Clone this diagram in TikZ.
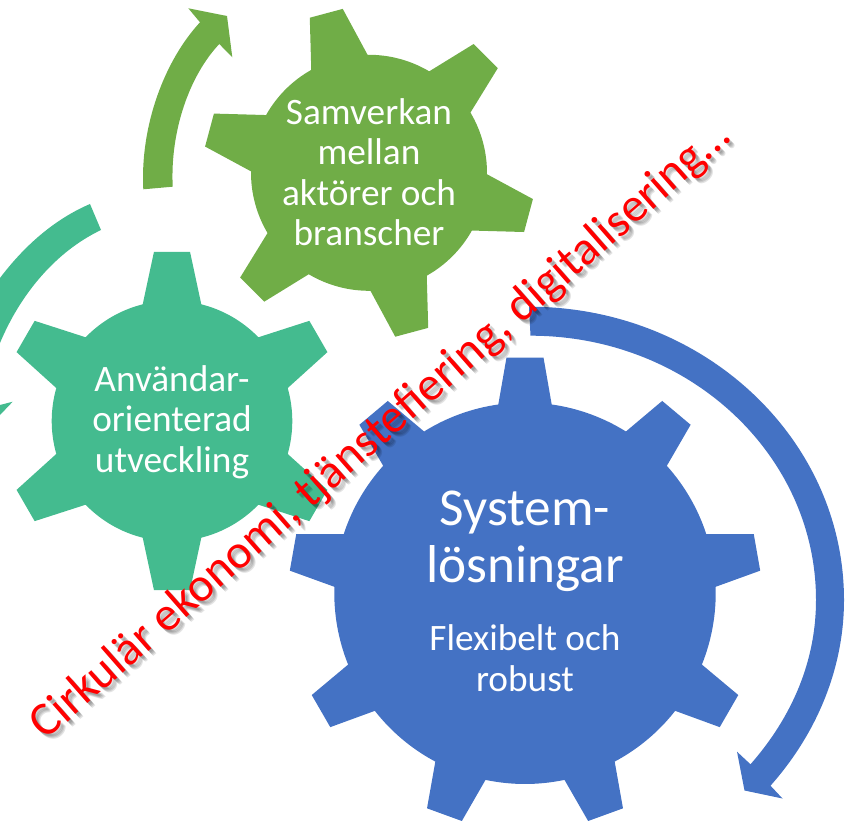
\documentclass[tikz,border=0pt]{standalone}
\usepackage{fontspec}
\setmainfont{Carlito}
\definecolor{gteal}{HTML}{44BB8F}
\definecolor{ggreen}{HTML}{70AD47}
\definecolor{gblue}{HTML}{4472C4}
\tikzset{
  gearlabel/.style={text=white,align=center,inner sep=0pt,font=\fontsize{37.3}{40.5}\selectfont},
  bigfont/.style={text=white,align=center,inner sep=0pt,font=\fontsize{53.3}{57}\selectfont},
  slanted label/.style={rotate=41.2,inner sep=0pt,font=\fontsize{47.8}{50}\selectfont},
  soft shadow/.style={slanted label,text=black,opacity=.11}
}
% cx cy teeth offset rbase rtip halfbase halftip colour
\newcommand\cogwheel[9]{%
  \begin{scope}[shift={(#1,#2)}]
    \fill[#9] ({#4-#7}:#5)
      \foreach \i [evaluate=\i as \a using #4+(\i-1)*360/#3] in {1,...,#3}{
        -- ({\a-#7}:#5) -- ({\a-#8}:#6) -- ({\a+#8}:#6) -- ({\a+#7}:#5)
        arc[start angle={\a+#7},end angle={\a+360/#3-#7},radius=#5]
      } -- cycle;
  \end{scope}}
\begin{document}
\begin{tikzpicture}[x=1pt,y=-1pt]
\useasboundingbox (0,0) rectangle (846,821);
\clip (0,0) rectangle (846,821);
% arrows
\fill[ggreen] (143.3,189.3) .. controls (140,125) and (165,60) .. (200,22.3)
  -- (188.3,8.3) -- (227,16) -- (232.3,57.3) -- (219.3,44)
  .. controls (190,75) and (170,130) .. (172.7,186.7) -- cycle;
\fill[gteal] (90,204) .. controls (55,219) and (25,245) .. (0,278)
  -- (0,343) .. controls (20,295) and (55,252) .. (101,230) -- cycle;
\fill[gteal] (12.7,401.7) -- (0,405) -- (0,415) -- cycle;
\fill[gblue] (529,306.7) .. controls (703,306.7) and (844,438) .. (844,600)
  .. controls (844,668) and (817,733.3) .. (770.5,785.7)
  -- (782.5,798.5) -- (744.5,790.5) -- (737,751.7) -- (750.5,764.3)
  .. controls (792.2,716.7) and (816,661) .. (816,600)
  .. controls (816,454.2) and (688.4,335.7) .. (530.5,335.7) -- cycle;
% gears
\cogwheel{369}{172.8}{6}{-105}{118}{166}{14.3}{5.9}{ggreen}
\cogwheel{172}{421}{6}{-90}{120.3}{170}{14.1}{6.1}{gteal}
\cogwheel{525}{593.3}{9}{-90}{190.7}{236.3}{8.05}{4.5}{gblue}
% labels
\node[gearlabel] (samverkan) at (369,172) {Samverkan\\mellan\\aktörer och\\branscher};
\node[gearlabel] (anvandar) at (172,422) {Användar-\\orienterad\\utveckling};
\node[bigfont] (system) at (525,541) {System-\\lösningar};
\node[gearlabel] (flexibelt) at (525,658) {Flexibelt och\\robust};
\node[soft shadow] (crossshadowa) at (383,433) {Cirkulär ekonomi, tjänstefiering, digitalisering…};
\node[soft shadow] (crossshadowb) at (384,434) {Cirkulär ekonomi, tjänstefiering, digitalisering…};
\node[soft shadow] (crossshadowc) at (385,435) {Cirkulär ekonomi, tjänstefiering, digitalisering…};
\node[soft shadow] (crossshadowd) at (386,436) {Cirkulär ekonomi, tjänstefiering, digitalisering…};
\node[slanted label,text=red] (crosstext) at (381,431) {Cirkulär ekonomi, tjänstefiering, digitalisering…};
\end{tikzpicture}
\end{document}
